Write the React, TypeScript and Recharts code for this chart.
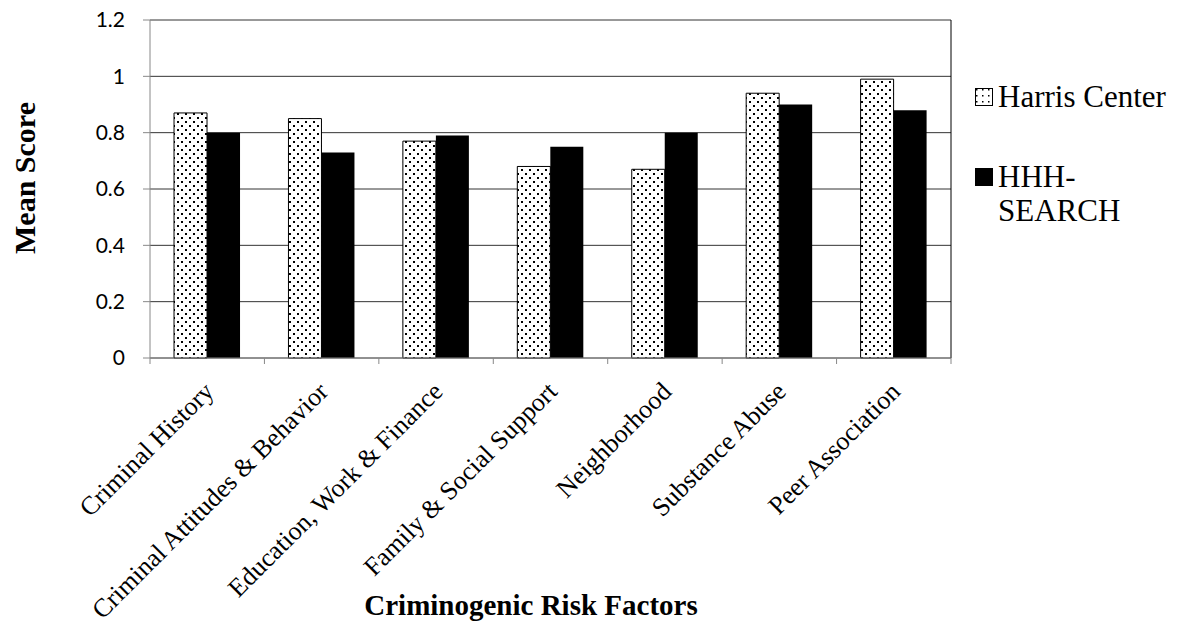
import { Bar, BarChart, CartesianGrid, XAxis, YAxis } from 'recharts';

const categories = [
  'Criminal History',
  'Criminal Attitudes & Behavior',
  'Education, Work & Finance',
  'Family & Social Support',
  'Neighborhood',
  'Substance Abuse',
  'Peer Association',
];
const harrisCenter = [0.87, 0.85, 0.77, 0.68, 0.67, 0.94, 0.99];
const hhhSearch = [0.8, 0.73, 0.79, 0.75, 0.8, 0.9, 0.88];
const yTicks = [0, 0.2, 0.4, 0.6, 0.8, 1, 1.2];
const seriesNames = ['Harris Center', 'HHH-SEARCH'];

const data = categories.map((name, i) => ({ name, harris: harrisCenter[i], hhh: hhhSearch[i] }));

const W = 1177;
const H = 628;
const margin = { top: 20, right: 226, bottom: 70, left: 90 };
const plotLeft = margin.left + 60;
const plotRight = W - margin.right;
const plotBottom = H - margin.bottom - 200;
const band = (plotRight - plotLeft) / categories.length;
const serif = '"Liberation Serif", "Times New Roman", serif';

function CatTick(props: any) {
  const { x, y, payload, index } = props;
  const tx = x + 8;
  const ty = y + 27;
  const left = x - band / 2;
  return (
    <g>
      <line x1={left} y1={plotBottom} x2={left} y2={plotBottom + 6} stroke="#888" />
      {index === categories.length - 1 && (
        <line x1={x + band / 2} y1={plotBottom} x2={x + band / 2} y2={plotBottom + 6} stroke="#888" />
      )}
      <text
        x={tx}
        y={ty}
        transform={`rotate(-45, ${tx}, ${ty})`}
        textAnchor="end"
        fontFamily={serif}
        fontSize={26}
        fill="#000"
      >
        {payload.value}
      </text>
    </g>
  );
}

function DotSwatch({ id }: { id: string }) {
  return (
    <svg width={18} height={18} style={{ display: 'block', flex: 'none' }}>
      <defs>
        <pattern id={id} width={6} height={6} patternUnits="userSpaceOnUse">
          <rect width={6} height={6} fill="#fff" />
          <rect x={1} y={1} width={1.5} height={1.5} fill="#000" />
        </pattern>
      </defs>
      <rect x={0.5} y={0.5} width={17} height={17} fill={`url(#${id})`} stroke="#000" />
    </svg>
  );
}

const legendText = { fontFamily: serif, fontSize: 31, lineHeight: '34px', color: '#000' };

export default function App() {
  return (
    <div style={{ position: 'absolute', left: 0, top: 0, width: W, height: H, background: '#fff' }}>
      <BarChart
        width={W}
        height={H}
        data={data}
        margin={margin}
        barCategoryGap="21%"
        barGap={0}
      >
        <defs>
          <pattern id="dots" width={8} height={8} patternUnits="userSpaceOnUse">
            <rect width={8} height={8} fill="#fff" />
            <rect x={1} y={1} width={2} height={2} fill="#000" />
            <rect x={5} y={5} width={2} height={2} fill="#000" />
          </pattern>
        </defs>
        <CartesianGrid vertical={false} stroke="#333" />
        <CartesianGrid horizontal={false} verticalPoints={[plotRight]} stroke="#000" />
        <XAxis
          dataKey="name"
          height={200}
          interval={0}
          tickLine={false}
          axisLine={{ stroke: '#888' }}
          tick={<CatTick />}
        />
        <YAxis
          width={60}
          domain={[0, 1.2]}
          ticks={yTicks}
          tickSize={7}
          tickMargin={18}
          tickLine={{ stroke: '#888' }}
          axisLine={{ stroke: '#888' }}
          tickFormatter={(v: number) => String(v)}
          tick={{ fill: '#000', fontSize: 21, fontFamily: 'Lato, "Open Sans", sans-serif' }}
        />
        <Bar dataKey="harris" name={seriesNames[0]} fill="url(#dots)" stroke="#000" strokeWidth={1} isAnimationActive={false} />
        <Bar dataKey="hhh" name={seriesNames[1]} fill="#000" isAnimationActive={false} />
      </BarChart>

      <div
        style={{
          position: 'absolute',
          left: 25,
          top: 178,
          transform: 'translate(-50%, -50%) rotate(-90deg)',
          fontFamily: serif,
          fontWeight: 'bold',
          fontSize: 30,
          whiteSpace: 'nowrap',
        }}
      >
        Mean Score
      </div>
      <div
        style={{
          position: 'absolute',
          left: 531,
          top: 605,
          transform: 'translate(-50%, -50%)',
          fontFamily: serif,
          fontWeight: 'bold',
          fontSize: 29,
          whiteSpace: 'nowrap',
        }}
      >
        Criminogenic Risk Factors
      </div>

      <div style={{ position: 'absolute', left: 975, top: 80 }}>
        <div style={{ display: 'flex', alignItems: 'center', gap: 5 }}>
          <DotSwatch id="legend-dots" />
          <span style={legendText}>{seriesNames[0]}</span>
        </div>
        <div style={{ display: 'flex', alignItems: 'flex-start', gap: 5, marginTop: 46 }}>
          <div style={{ width: 18, height: 18, background: '#000', marginTop: 8, flex: 'none' }} />
          <span style={{ ...legendText, width: 150 }}>{seriesNames[1].replace('-', '-\u200b')}</span>
        </div>
      </div>
    </div>
  );
}
